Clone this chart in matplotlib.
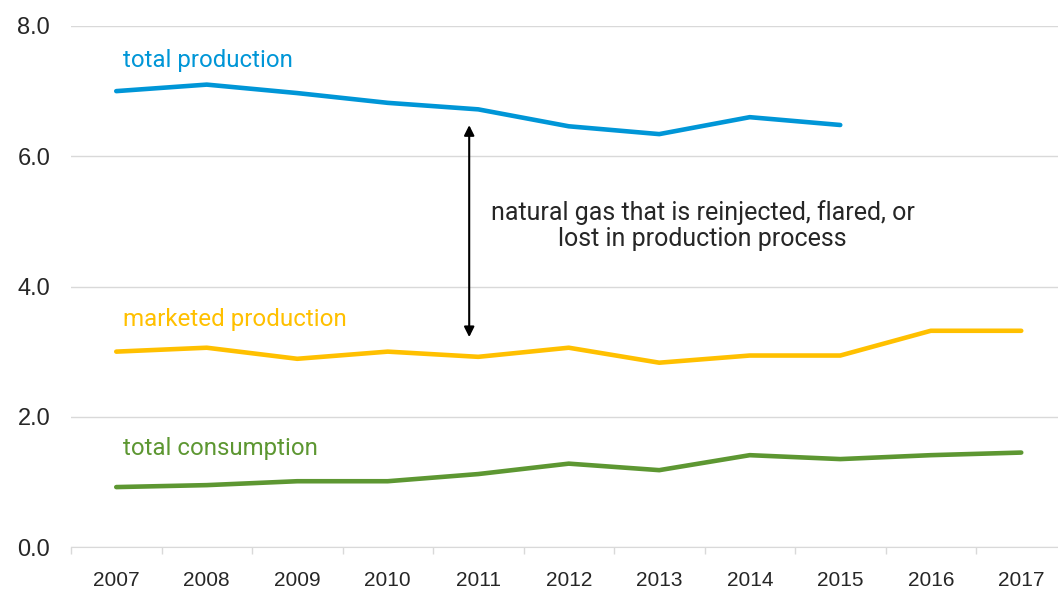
import numpy as np
import matplotlib.pyplot as plt
from matplotlib.ticker import FixedLocator

# Data (trillion cubic feet)
years = ['2007', '2008', '2009', '2010', '2011', '2012', '2013', '2014', '2015', '2016', '2017']
total_production = [7.00, 7.10, 6.97, 6.82, 6.72, 6.46, 6.34, 6.60, 6.48]
marketed_production = [3.00, 3.06, 2.89, 3.00, 2.92, 3.06, 2.83, 2.94, 2.94, 3.32, 3.32]
total_consumption = [0.92, 0.95, 1.01, 1.01, 1.12, 1.28, 1.18, 1.41, 1.35, 1.41, 1.45]

blue = '#0096D7'
yellow = '#FFC000'
green = '#5D9732'
grid_grey = '#D9D9D9'
text_dark = '#262626'

x = np.arange(len(years))

fig = plt.figure(figsize=(10.58, 5.89), dpi=100)
ax = fig.add_axes([71 / 1058, 42 / 589, 995.5 / 1058, 521 / 589])

ax.plot(x[:len(total_production)], total_production, color=blue, lw=3.3, solid_capstyle='round')
ax.plot(x, marketed_production, color=yellow, lw=3.3, solid_capstyle='round')
ax.plot(x, total_consumption, color=green, lw=3.3, solid_capstyle='round')

ax.set_xlim(-0.5, len(years) - 0.5)
ax.set_ylim(0, 8)
ax.set_yticks([0, 2, 4, 6, 8])
ax.set_yticklabels(['0.0', '2.0', '4.0', '6.0', '8.0'], family='Liberation Sans', fontsize=17, color=text_dark)
ax.set_xticks(x)
ax.set_xticklabels(years, family='Liberation Sans', fontsize=15, color=text_dark)
ax.xaxis.set_minor_locator(FixedLocator(np.arange(-0.5, len(years), 1.0)))

ax.tick_params(axis='y', length=0, pad=15)
ax.tick_params(axis='x', which='major', length=0, pad=17)
ax.tick_params(axis='x', which='minor', length=5, color=grid_grey, width=1)

ax.grid(axis='y', color=grid_grey, lw=1)
ax.set_axisbelow(True)
for s in ['top', 'right', 'left']:
    ax.spines[s].set_visible(False)
ax.spines['bottom'].set_color(grid_grey)

# series labels
ax.text(0.07, 7.47, 'total production', color=blue, fontsize=17.3, family='Roboto', va='center')
ax.text(0.07, 3.50, 'marketed production', color=yellow, fontsize=17.4, family='Roboto', va='center')
ax.text(0.07, 1.52, 'total consumption', color=green, fontsize=17.3, family='Roboto', va='center')

# arrow showing the gap
ax.annotate('', xy=(3.9, 6.52), xytext=(3.9, 3.18),
            arrowprops=dict(arrowstyle='<|-|>', color='black', lw=1.5, mutation_scale=15))
ax.text(6.48, 4.94, 'natural gas that is reinjected, flared, or\nlost in production process',
        ha='center', va='center', fontsize=18, family='Roboto', color=text_dark, linespacing=1.08)

plt.savefig('out.png', dpi=100)
